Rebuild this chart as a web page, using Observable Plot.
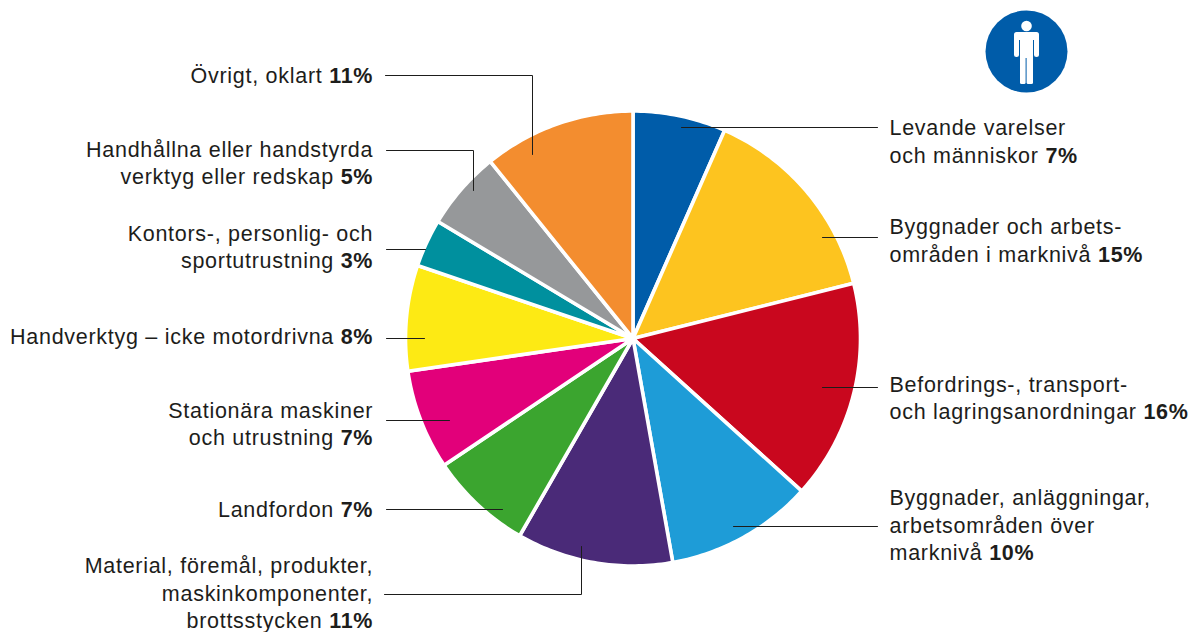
<!DOCTYPE html>
<html><head><meta charset="utf-8">
<style>html,body{margin:0;padding:0;background:#fff}svg{display:block}</style>
<script src="https://cdn.jsdelivr.net/npm/d3@7"></script>
<script src="https://cdn.jsdelivr.net/npm/@observablehq/plot@0.6"></script>
</head><body><div id="chart"></div>
<script>
const categories = ["Levande varelser\noch människor","Byggnader och arbets-\nområden i marknivå","Befordrings-, transport-\noch lagringsanordningar","Byggnader, anläggningar,\narbetsområden över\nmarknivå","Material, föremål, produkter,\nmaskinkomponenter,\nbrottsstycken","Landfordon","Stationära maskiner\noch utrustning","Handverktyg – icke motordrivna","Kontors-, personlig- och\nsportutrustning","Handhållna eller handstyrda\nverktyg eller redskap","Övrigt, oklart"];
const shares = [6.6,14.5,15.6,10.5,11.1,7.3,7.1,7.5,3.4,5.6,10.8];
const shown = [7,15,16,10,11,7,7,8,3,5,11];
const colors = ["#005ca9","#fdc41f","#c9071e","#1e9cd7","#4a2a78","#3ba52f","#e2007a","#fdea14","#00909e","#96989a","#f38d2f"];

// layout (pixel-valued x/y scales)
const cx = 632.5, cy = 338, R = 227.5;
const labelX = [889,889,889,889,372.7,372.7,372.7,372.7,372.7,372.7,372.7];
const labelY = [141,240,397.5,525,593,509,423.5,336,246.5,162.5,75];
const leaders = [
  [[681,127],[877,127]],
  [[822,237],[877,237]],
  [[822,387],[877,387]],
  [[733,526],[877,526]],
  [[384,594],[581,594],[581,546]],
  [[386,509],[502,509]],
  [[386,420],[449,420]],
  [[386,338],[424,338]],
  [[386,249],[425,249]],
  [[386,150],[473,150],[473,190]],
  [[385,75],[532,75],[532,154]]
];

// slices from the shares
const arcs = d3.pie().sort(null).value(d => d)(shares);
const slicePts = arcs.flatMap((a, i) => {
  const n = Math.max(2, Math.ceil((a.endAngle - a.startAngle) * 60));
  const pts = [{i, x: cx, y: cy}];
  for (let k = 0; k <= n; k++) {
    const t = a.startAngle + (a.endAngle - a.startAngle) * k / n;
    pts.push({i, x: cx + R * Math.sin(t), y: cy - R * Math.cos(t)});
  }
  pts.push({i, x: cx, y: cy});
  return pts;
});
const leaderPts = leaders.flatMap((l, i) => l.map(([x, y]) => ({i, x, y})));
const labels = categories.map((c, i) => ({text: `${c} ${shown[i]}%`, x: labelX[i], y: labelY[i], left: i < 4}));

// icon
const iconCircle = [{x: 1026, y: 51}];
const iconHead = [{x: 1026, y: 25.5}];
const iconBody = [
  {x1: 1014, x2: 1039, y1: 32, y2: 40},
  {x1: 1014, x2: 1019, y1: 34, y2: 57},
  {x1: 1034, x2: 1039, y1: 34, y2: 57},
  {x1: 1020, x2: 1033, y1: 34, y2: 58},
  {x1: 1020, x2: 1025.6, y1: 50, y2: 84},
  {x1: 1026.6, x2: 1033, y1: 50, y2: 84}
];

const font = "'Liberation Sans', sans-serif";
const textOpts = {x: "x", y: "y", text: "text", lineHeight: 1.28, fontSize: 21.5, fill: "#1d1d1b", fontFamily: font, dy: -1.5};
const plot = Plot.plot({
  width: 1192, height: 632, margin: 0,
  style: {letterSpacing: "0.72px"},
  x: {type: "linear", domain: [0, 1192], range: [0, 1192], axis: null},
  y: {type: "linear", domain: [0, 632], range: [0, 632], axis: null},
  color: {type: "ordinal", domain: d3.range(colors.length), range: colors},
  marks: [
    Plot.line(slicePts, {x: "x", y: "y", z: "i", fill: "i", stroke: "white", strokeWidth: 3.6, strokeLinejoin: "miter", strokeMiterlimit: 2}),
    Plot.line(leaderPts, {x: "x", y: "y", z: "i", stroke: "#1d1d1b", strokeWidth: 1, strokeLinejoin: "miter"}),
    Plot.dot(iconCircle, {x: "x", y: "y", r: 41, fill: "#005ca9"}),
    Plot.dot(iconHead, {x: "x", y: "y", r: 5.3, fill: "white"}),
    Plot.rect(iconBody.slice(0, 3), {x1: "x1", x2: "x2", y1: "y1", y2: "y2", rx: 2.5, fill: "white"}),
    Plot.rect(iconBody.slice(3), {x1: "x1", x2: "x2", y1: "y1", y2: "y2", rx: 1.5, fill: "white"}),
    Plot.text(labels.filter(d => d.left), {...textOpts, textAnchor: "start"}),
    Plot.text(labels.filter(d => !d.left), {...textOpts, textAnchor: "end"})
  ]
});
// bold percentages
d3.select(plot).selectAll("text").each(function () {
  const spans = this.querySelectorAll("tspan");
  const el = spans.length ? spans[spans.length - 1] : this;
  const m = el.textContent.match(/^(.*\s)(\d+%)$/);
  if (!m) return;
  el.textContent = m[1];
  const b = document.createElementNS("http://www.w3.org/2000/svg", "tspan");
  b.setAttribute("font-weight", "700");
  b.textContent = m[2];
  el.appendChild(b);
});
document.getElementById("chart").append(plot);
</script></body></html>
